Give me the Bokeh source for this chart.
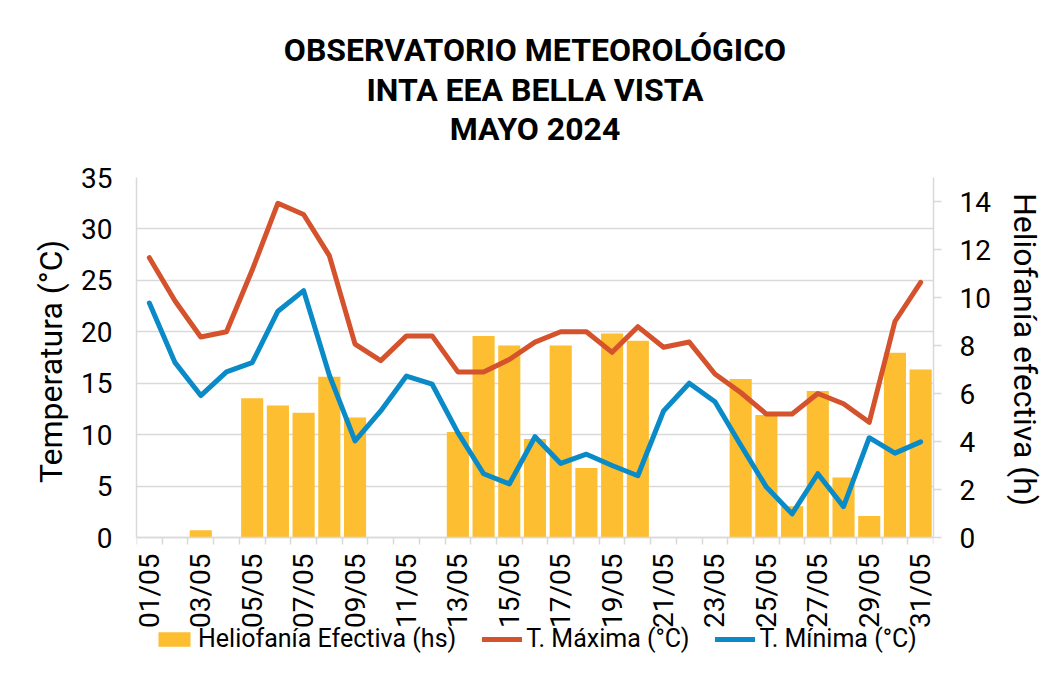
import math
from bokeh.plotting import figure
from bokeh.models import (Range1d, LinearAxis, FixedTicker, Title, Legend,
                          LegendItem)
from bokeh.embed import file_html
from bokeh.resources import INLINE

# ---------------- data ----------------
days = list(range(1, 32))
day_labels = [f"{d:02d}/05" for d in days]
helio = [0, 0, 0.3, 0, 5.8, 5.5, 5.2, 6.7, 5.0, 0, 0, 0, 4.4, 8.4, 8.0, 4.1,
         8.0, 2.9, 8.5, 8.2, 0, 0, 0, 6.6, 5.1, 1.3, 6.1, 2.5, 0.9, 7.7, 7.0]
tmax = [27.2, 23.0, 19.5, 20.0, 26.0, 32.5, 31.4, 27.4, 18.8, 17.2, 19.6, 19.6,
        16.1, 16.1, 17.3, 19.0, 20.0, 20.0, 18.0, 20.5, 18.5, 19.0, 15.9, 14.1,
        12.0, 12.0, 14.0, 13.0, 11.2, 21.0, 24.8]
tmin = [22.8, 17.0, 13.8, 16.1, 17.0, 22.0, 24.0, 15.8, 9.4, 12.3, 15.7, 14.9,
        10.2, 6.2, 5.2, 9.8, 7.2, 8.1, 7.0, 6.0, 12.3, 15.0, 13.2, 9.0, 4.9,
        2.3, 6.2, 3.0, 9.7, 8.2, 9.3]
temp_ticks = [0, 5, 10, 15, 20, 25, 30, 35]
helio_ticks = [0, 2, 4, 6, 8, 10, 12, 14]
title_lines = ["OBSERVATORIO METEOROLÓGICO", "INTA EEA BELLA VISTA", "MAYO 2024"]

FONT = "Roboto"
GRID = "#d9d9d9"
TXT = "#000000"
C_BAR = "#FDBE31"
C_MAX = "#D4522C"
C_MIN = "#0A8BC7"

# data area is 360 px tall; the frame extends 119 px lower to hold the
# x labels and the legend (annotations are clipped to the frame)
DATA_H = 360
EXTRA_H = 119
TEMP_MAX = 35
HELIO_MAX = 15
NBSP = "\u00a0"

p = figure(frame_width=797, frame_height=DATA_H + EXTRA_H, title=None,
           toolbar_location=None, output_backend="svg",
           x_range=Range1d(0.5, 31.5),
           y_range=Range1d(-TEMP_MAX * EXTRA_H / DATA_H, TEMP_MAX),
           min_border_left=136, min_border_right=0,
           min_border_top=176, min_border_bottom=0)
p.background_fill_color = "white"
p.border_fill_color = "white"
p.outline_line_color = None
p.extra_y_ranges = {"helio": Range1d(-HELIO_MAX * EXTRA_H / DATA_H, HELIO_MAX)}

ttl = Title(text="\n".join(title_lines), align="center", text_font=FONT,
            text_font_size="32px", text_font_style="bold",
            text_color=TXT, standoff=58)
try:
    ttl.text_align = "center"
except Exception:
    pass
try:
    ttl.text_line_height = 1.04
except Exception:
    pass
p.add_layout(ttl, "above")

# x axis drawn at temperature 0
xax = p.xaxis[0]
xax.axis_label = None
xax.fixed_location = 0
xax.ticker = FixedTicker(ticks=days[::2],
                         minor_ticks=[d - 0.5 for d in days] + [days[-1] + 0.5])
xax.major_label_overrides = {d: lab for d, lab in zip(days, day_labels)}
xax.major_label_orientation = math.pi / 2
xax.major_tick_line_color = None
xax.major_tick_out = 0
xax.major_tick_in = 0
xax.minor_tick_line_color = GRID
xax.minor_tick_line_width = 1.5
xax.minor_tick_out = 7
xax.minor_tick_in = 0
xax.axis_line_color = GRID
xax.axis_line_width = 1.5
xax.major_label_standoff = 9
xax.major_label_text_font = FONT
xax.major_label_text_font_size = "28px"
xax.major_label_text_color = TXT

# left axis
yax = p.yaxis[0]
yax.bounds = (0, TEMP_MAX)
yax.ticker = FixedTicker(ticks=temp_ticks)
yax.axis_label = NBSP * 14 + "Temperatura (°C)"
yax.axis_label_text_font = FONT
yax.axis_label_text_font_size = "32px"
yax.axis_label_text_font_style = "normal"
yax.axis_label_text_color = TXT
yax.axis_label_standoff = 8
yax.major_label_text_font = FONT
yax.major_label_text_font_size = "28px"
yax.major_label_text_color = TXT
yax.major_tick_line_color = None
yax.major_tick_out = 0
yax.minor_tick_line_color = None
yax.axis_line_color = GRID
yax.axis_line_width = 1.5
yax.major_label_standoff = 24

p.xgrid.visible = False
p.ygrid.ticker = FixedTicker(ticks=temp_ticks)
p.ygrid.grid_line_color = GRID
p.ygrid.grid_line_width = 1.5

# right axis
rax = LinearAxis(y_range_name="helio", ticker=FixedTicker(ticks=helio_ticks),
                 bounds=(0, HELIO_MAX))
rax.axis_label = "Heliofanía efectiva (h)" + NBSP * 17
rax.axis_label_text_font = FONT
rax.axis_label_text_font_size = "32px"
rax.axis_label_text_font_style = "normal"
rax.axis_label_text_color = TXT
rax.axis_label_standoff = 12
rax.major_label_text_font = FONT
rax.major_label_text_font_size = "28px"
rax.major_label_text_color = TXT
rax.major_tick_line_color = GRID
rax.major_tick_line_width = 1.5
rax.major_tick_out = 8
rax.major_tick_in = 0
rax.minor_tick_line_color = None
rax.axis_line_color = GRID
rax.axis_line_width = 1.5
rax.major_label_standoff = 18
p.add_layout(rax, "right")

# glyphs
bars = p.vbar(x=days, top=helio, bottom=0, width=0.86, y_range_name="helio",
              fill_color=C_BAR, line_color=None)
lmax = p.line(days, tmax, line_width=5, line_color=C_MAX,
              line_join="round", line_cap="round")
lmin = p.line(days, tmin, line_width=5, line_color=C_MIN,
              line_join="round", line_cap="round")

legend = Legend(items=[LegendItem(label="Heliofanía Efectiva (hs)", renderers=[bars]),
                       LegendItem(label="T. Máxima (°C)", renderers=[lmax]),
                       LegendItem(label="T. Mínima (°C)", renderers=[lmin])],
                orientation="horizontal", location=(18, 3),
                label_text_font=FONT, label_text_font_size="25px",
                label_text_color=TXT, glyph_width=40, glyph_height=18,
                label_standoff=4, spacing=26, padding=0, margin=0,
                border_line_color=None, background_fill_alpha=0)
p.add_layout(legend)

open("out.html", "w").write(file_html(p, INLINE))
